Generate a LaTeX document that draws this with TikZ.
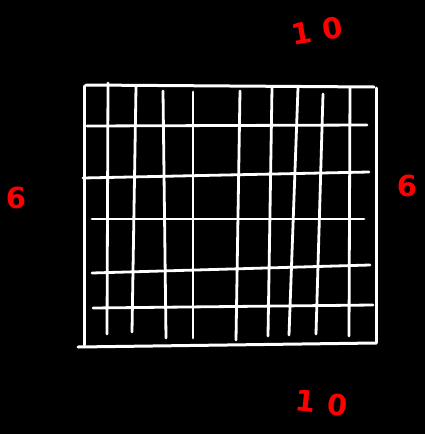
\documentclass[tikz,border=0pt]{standalone}
\usepackage{fontspec}
\setsansfont{DejaVu Sans}
\usepackage{tikz}
\usetikzlibrary{positioning}
\definecolor{board}{HTML}{000000}
\definecolor{chalk}{HTML}{FFFFFF}
\definecolor{marker}{HTML}{FF0000}
\tikzset{
  % --- strokes
  wire/.style  = {draw=chalk, line width=2.8pt, line cap=round},
  frame/.style = {wire, line width=3pt},
  % --- labels
  dim/.style   = {text=marker, inner sep=0pt,
                  font=\sffamily\bfseries\fontsize{29}{29}\selectfont},
}
\begin{document}
\begin{tikzpicture}[x=1pt,y=-1pt]
  \fill[board] (0,0) rectangle (425,434);
  \useasboundingbox (0,0) rectangle (425,434);
  % outer frame
  \draw[frame] (86,85) -- (374,87);
  \draw[frame] (84,86) -- (84,345);
  \draw[frame] (78,347) -- (376,343);
  \draw[frame] (376,88) -- (376,343);
  % vertical strokes
  \foreach \xa/\ya/\xb/\yb in {108/83/107/334, 136/87/132/332, 163/91/166/338,
      193/92/193/338, 240/91/236/340, 272/88/268/336, 298/88/289/335,
      323/94/316/334, 350/88/349/336}
    \draw[wire] (\xa,\ya) -- (\xb,\yb);
  % horizontal strokes
  \foreach \xa/\ya/\xb/\yb in {87/126/367/125, 83/178/369/172, 92/219/364/219,
      92/273/370/265, 93/308/373/305}
    \draw[wire] (\xa,\ya) -- (\xb,\yb);
  % side counts
  \node[dim, rotate=10] (top)    at (317,31)  {1\hspace{12pt}0};
  \node[dim]            (left)   at (16,198)  {6};
  \node[dim]            (right)  at (407,186) {6};
  \node[dim, rotate=-6] (bottom) at (322,403) {1\hspace{12pt}0};
\end{tikzpicture}
\end{document}
